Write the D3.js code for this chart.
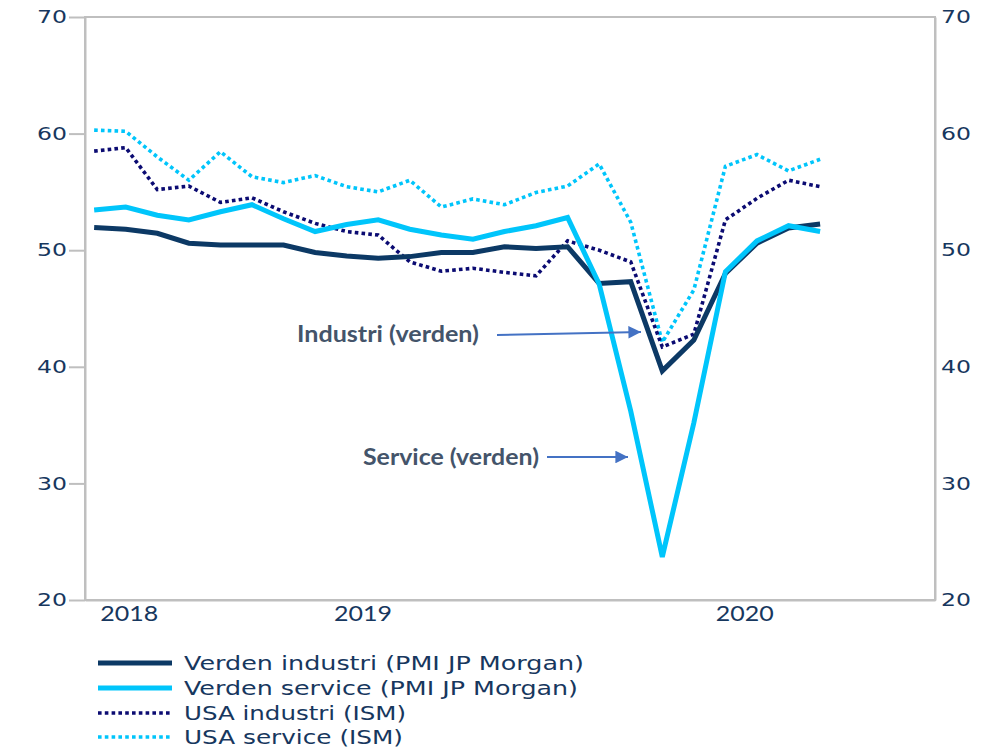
<!DOCTYPE html>
<html>
<head>
<meta charset="utf-8">
<script src="https://cdn.jsdelivr.net/npm/d3@7"></script>
<style>
  html, body { margin: 0; padding: 0; background: #ffffff; }
  svg { display: block; }
</style>
</head>
<body>
<svg id="chart" width="996" height="750"></svg>
<script>
// ---------- DATA ----------
const periods = d3.range(24); // monthly observations, 2018 -> 2020
const verdenIndustri = [51.95, 51.8, 51.45, 50.6, 50.45, 50.45, 50.45, 49.8, 49.5, 49.3, 49.45, 49.8,
                        49.8, 50.3, 50.15, 50.3, 47.15, 47.3, 39.65, 42.3, 48.0, 50.6, 51.9, 52.25];
const verdenService = [53.45, 53.7, 53.0, 52.6, 53.3, 53.9, 52.7, 51.6, 52.2, 52.6, 51.8, 51.3,
                       50.95, 51.6, 52.1, 52.8, 47.1, 36.2, 23.7, 35.2, 48.15, 50.8, 52.1, 51.6];
const usaIndustri = [58.5, 58.8, 55.2, 55.5, 54.1, 54.5, 53.3, 52.3, 51.6, 51.3, 49.0, 48.2,
                     48.45, 48.1, 47.8, 50.8, 50.0, 49.0, 41.7, 42.8, 52.6, 54.45, 56.0, 55.45];
const usaService = [60.3, 60.2, 58.0, 56.0, 58.45, 56.3, 55.8, 56.4, 55.45, 55.0, 56.0, 53.7,
                    54.4, 53.9, 54.95, 55.5, 57.4, 52.4, 42.1, 46.6, 57.2, 58.2, 56.8, 57.8];
const seriesNames = ["Verden industri (PMI JP Morgan)", "Verden service (PMI JP Morgan)",
                     "USA industri (ISM)", "USA service (ISM)"];
const yTicks = [20, 30, 40, 50, 60, 70];
const yearLabels = ["2018", "2019", "2020"];
const yearPositions = [1.1, 8.5, 20.6]; // in period units
const annotationLabels = ["Industri (verden)", "Service (verden)"];

// ---------- LAYOUT ----------
const svg = d3.select("#chart");
const plotLeft = 85, plotRight = 935, plotTop = 17, plotBottom = 600;
const x = d3.scaleLinear().domain([-0.29, 26.64]).range([plotLeft, plotRight]);
const y = d3.scaleLinear().domain([20, 70]).range([plotBottom, plotTop]);

const axisColor = "#bfbfbf";
const textColor = "#17375e";

const series = [
  { name: seriesNames[0], values: verdenIndustri, color: "#0c3965", width: 5, dash: null },
  { name: seriesNames[1], values: verdenService, color: "#00c5fb", width: 5, dash: null },
  { name: seriesNames[2], values: usaIndustri, color: "#0b0b72", width: 3.6, dash: "3.6,3.2" },
  { name: seriesNames[3], values: usaService, color: "#00c5fb", width: 3.6, dash: "3.6,3.2" }
];

// frame
svg.append("rect")
  .attr("x", x.range()[0]).attr("y", y.range()[1])
  .attr("width", x.range()[1] - x.range()[0])
  .attr("height", y.range()[0] - y.range()[1])
  .attr("fill", "none").attr("stroke", axisColor).attr("stroke-width", 2);

// left axis
const gL = svg.append("g").attr("transform", `translate(${plotLeft},0)`)
  .call(d3.axisLeft(y).tickValues(yTicks).tickSize(16).tickSizeOuter(0).tickPadding(2));
gL.select(".domain").attr("stroke", axisColor).attr("stroke-width", 2);
gL.selectAll(".tick line").attr("stroke", axisColor).attr("stroke-width", 2);
gL.selectAll(".tick text")
  .attr("fill", textColor).attr("font-family", "DejaVu Sans").attr("font-size", 17.5)
  .attr("textLength", 30).attr("lengthAdjust", "spacingAndGlyphs");

// right axis
const gR = svg.append("g").attr("transform", `translate(${plotRight},0)`)
  .call(d3.axisRight(y).tickValues(yTicks).tickSize(0).tickSizeOuter(0).tickPadding(6));
gR.select(".domain").attr("stroke", axisColor).attr("stroke-width", 2);
gR.selectAll(".tick text")
  .attr("fill", textColor).attr("font-family", "DejaVu Sans").attr("font-size", 17.5)
  .attr("textLength", 30).attr("lengthAdjust", "spacingAndGlyphs");

// bottom axis (year labels)
const gB = svg.append("g").attr("transform", `translate(0,${plotBottom})`)
  .call(d3.axisBottom(x).tickValues(yearPositions)
    .tickFormat((d, i) => yearLabels[i]).tickSize(0).tickSizeOuter(0).tickPadding(5));
gB.select(".domain").attr("stroke", axisColor).attr("stroke-width", 2);
gB.selectAll(".tick text")
  .attr("fill", textColor).attr("font-family", "Lato").attr("font-size", 22)
  .attr("textLength", 58).attr("lengthAdjust", "spacingAndGlyphs");

// lines
const line = d3.line().x((d, i) => x(periods[i])).y(d => y(d)).curve(d3.curveLinear);
const drawOrder = [3, 2, 0, 1];
drawOrder.forEach(k => {
  const s = series[k];
  svg.append("path")
    .datum(s.values)
    .attr("d", line)
    .attr("fill", "none")
    .attr("stroke", s.color)
    .attr("stroke-width", s.width)
    .attr("stroke-linejoin", "miter")
    .attr("stroke-dasharray", s.dash);
});

// annotations
const defs = svg.append("defs");
defs.append("marker").attr("id", "arrow").attr("viewBox", "0 0 10 10")
  .attr("refX", 10).attr("refY", 5).attr("markerWidth", 8).attr("markerHeight", 7)
  .attr("orient", "auto").attr("markerUnits", "strokeWidth")
  .append("path").attr("d", "M0,0 L10,5 L0,10 Z").attr("fill", "#4472c4");

const ann = [
  { text: annotationLabels[0], tx: 297, ty: 334, tl: 182, x1: 497, y1: 335, x2: 641, y2: 332 },
  { text: annotationLabels[1], tx: 363, ty: 457, tl: 176, x1: 547, y1: 457, x2: 628, y2: 457 }
];
ann.forEach(a => {
  svg.append("text").attr("x", a.tx).attr("y", a.ty + 8)
    .attr("font-family", "Lato").attr("font-weight", "bold").attr("font-size", 22)
    .attr("fill", "#44546a").attr("textLength", a.tl).attr("lengthAdjust", "spacingAndGlyphs")
    .text(a.text);
  svg.append("line").attr("x1", a.x1).attr("y1", a.y1).attr("x2", a.x2).attr("y2", a.y2)
    .attr("stroke", "#4472c4").attr("stroke-width", 1.8).attr("marker-end", "url(#arrow)");
});

// legend
const legendY = [663, 688, 713, 737];
const legendLen = [400, 394, 222, 219];
const lg = svg.append("g");
series.forEach((s, i) => {
  lg.append("line").attr("x1", 98).attr("x2", 172).attr("y1", legendY[i]).attr("y2", legendY[i])
    .attr("stroke", s.color).attr("stroke-width", s.dash ? 3.6 : 5).attr("stroke-dasharray", s.dash);
  lg.append("text").attr("x", 184).attr("y", legendY[i] + 7)
    .attr("font-family", "DejaVu Sans").attr("font-size", 19.5).attr("fill", textColor)
    .attr("textLength", legendLen[i]).attr("lengthAdjust", "spacingAndGlyphs")
    .text(s.name);
});
</script>
</body>
</html>
